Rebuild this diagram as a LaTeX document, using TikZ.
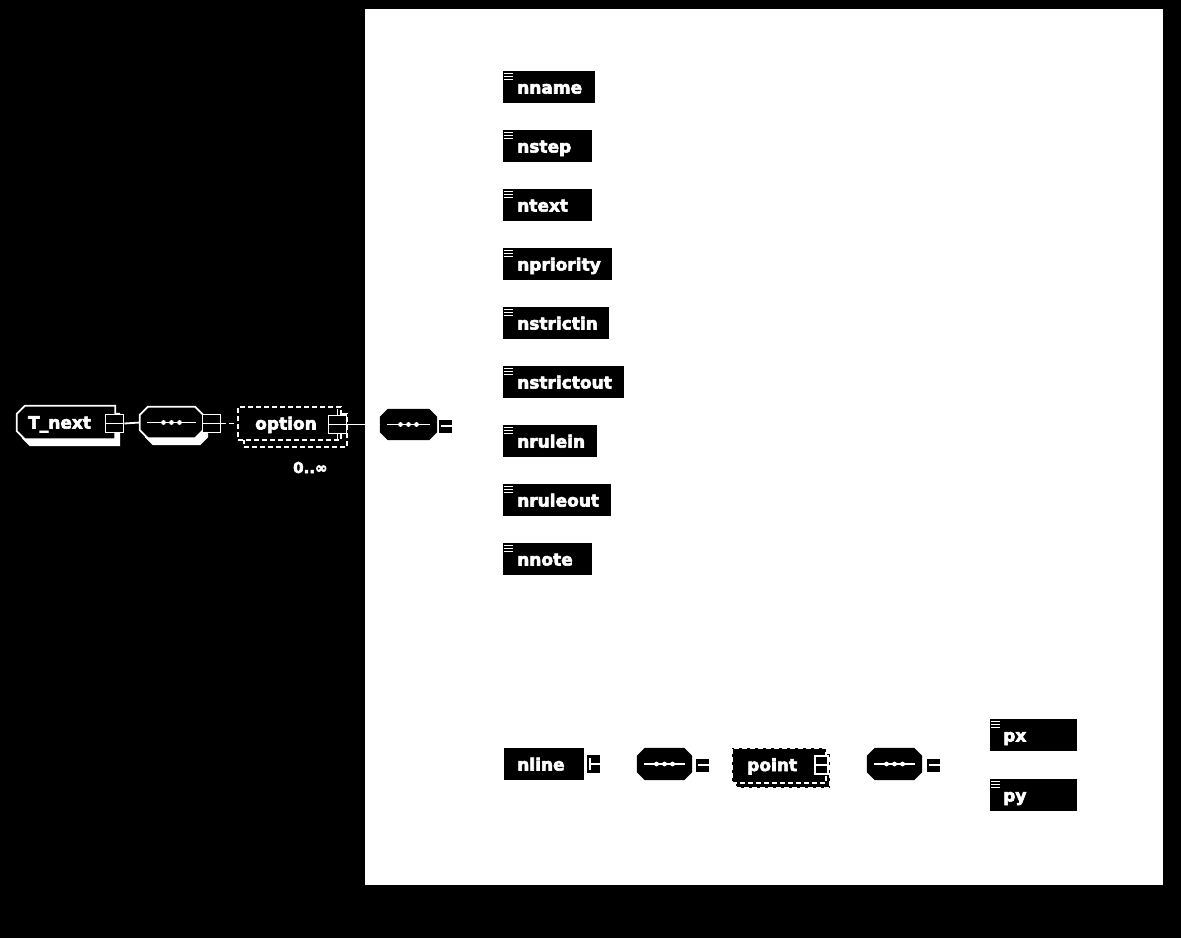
\documentclass[tikz,border=0pt]{standalone}
\usepackage{fontspec}
\newfontfamily\heavyfont{DejaVu Sans}[UprightFont={* Bold}, FakeBold=3.5]
\usetikzlibrary{shadows}
\tikzset{
  txt/.style={text=white,font=\fontsize{17}{20}\selectfont\heavyfont,inner sep=0pt},
  smalltxt/.style={text=white,font=\fontsize{15}{18}\selectfont\heavyfont,inner sep=0pt},
  hold/.style={rectangle, inner sep=0pt},
  iconw/.style={rectangle, draw=white, fill=black, line width=1.6pt, minimum width=18pt, minimum height=18pt, inner sep=0pt,
      path picture={\draw[white,line width=1.6pt] (path picture bounding box.west) -- (path picture bounding box.east);}},
  eqicon/.style={rectangle, fill=black, minimum width=13pt, minimum height=13pt, inner sep=0pt,
      path picture={\draw[white,line width=2pt] ([xshift=2pt]path picture bounding box.west) -- (path picture bounding box.east);}},
  nicon/.style={rectangle, fill=black, minimum width=13pt, minimum height=18pt, inner sep=0pt,
      path picture={\draw[white,line width=1.5pt] ([xshift=3pt,yshift=-3pt]path picture bounding box.north west) -- ([xshift=3pt,yshift=3pt]path picture bounding box.south west);
                    \draw[white,line width=2pt] ([xshift=3pt]path picture bounding box.west) -- (path picture bounding box.east);}},
  dashbox/.style={rectangle, draw=white, dash pattern=on 5pt off 3pt, line width=2pt, fill=black, inner sep=0pt},
  elem/.style={rectangle, fill=black, minimum height=32pt, inner sep=0pt, anchor=west,
      path picture={\foreach \dy in {2.5,5.5,8.5}
        \draw[white,line width=1.5pt] ([xshift=1pt,yshift=-\dy pt]path picture bounding box.north west) -- ++(9,0);}},
  plainbox/.style={rectangle, fill=black, minimum height=32pt, inner sep=0pt, anchor=west},
  conn/.style={white, line width=1.8pt},
  outl/.style={draw=white, line width=1.8pt, fill=black},
  shadowfill/.style={fill=white, transform canvas={xshift=5pt,yshift=-7pt}},
}
% octagon around a node #1, with path options #2
\newcommand\octpath[2]{\path[#2] ([xshift=8pt]#1.north west) -- ([xshift=-8pt]#1.north east) -- ([yshift=-8pt]#1.north east)
  -- ([yshift=8pt]#1.south east) -- ([xshift=-8pt]#1.south east) -- ([xshift=8pt]#1.south west)
  -- ([yshift=8pt]#1.south west) -- ([yshift=-8pt]#1.north west) -- cycle;}
% left-chamfered box around node #1
\newcommand\ctpath[2]{\path[#2] ([xshift=8pt]#1.north west) -- (#1.north east) -- (#1.south east)
  -- ([xshift=8pt]#1.south west) -- ([yshift=8pt]#1.south west) -- ([yshift=-8pt]#1.north west) -- cycle;}
% dotted sequence line in node #1
\newcommand\seqdots[1]{\draw[white,line width=1.6pt] ([xshift=7pt]#1.west) -- ([xshift=-7pt]#1.east);
  \foreach \dx in {-8,0,8} \fill[white] ([xshift=\dx pt]#1.center) circle (2.4pt);}
\begin{document}
\begin{tikzpicture}[x=1pt,y=-1pt]
\fill[black] (0,0) rectangle (1181,938);
\useasboundingbox (0,0) rectangle (1181,938);
\fill[white] (365,9) rectangle (1163,885);

% left chain
\node[hold, minimum width=98pt, minimum height=33pt] (tnext) at (66,422.5) {};
\ctpath{tnext}{shadowfill}
\ctpath{tnext}{outl}
\node[txt, anchor=base west] (tnext-t) at (28,428.5) {T\_next};
\node[iconw] (tnext-i) at (114.5,423.5) {};

\node[hold, minimum width=63pt, minimum height=31pt] (seq1) at (171.5,422.5) {};
\octpath{seq1}{shadowfill}
\octpath{seq1}{outl}
\seqdots{seq1}
\node[iconw] (seq1-i) at (211.5,423.5) {};

\node[dashbox, minimum width=103pt, minimum height=33pt,
      general shadow={shadow xshift=6pt,shadow yshift=-7pt,draw=white,dash pattern=on 5pt off 3pt,line width=2pt,fill=black}] (opt) at (289.5,423.5) {};
\node[txt, anchor=base west] (opt-t) at (255,429.5) {option};
\node[iconw] (opt-i) at (337.5,424.5) {};
\draw[conn] (opt-i.north) -- ++(0,-6);
\draw[conn] (opt-i.south) -- ++(0,6);
\node[smalltxt, anchor=base west] (opt-m) at (293,473) {0..∞};

\draw[conn] (tnext-i.east) -- (seq1.west);
\draw[conn, dash pattern=on 5pt off 3pt] (seq1-i.east) -- (opt.west);

\node[hold, minimum width=57pt, minimum height=31pt] (seq2) at (408.5,424.5) {};
\octpath{seq2}{fill=black}
\seqdots{seq2}
\node[eqicon] (seq2-i) at (445.5,426) {};
\draw[conn] (opt-i.east) -- (seq2.west);

% elements
\foreach \n/\y/\r in {nname/87/595, nstep/146/592, ntext/205/592, npriority/264/612,
  nstrictin/323/609, nstrictout/382/624, nrulein/441/597, nruleout/500/611, nnote/559/592}{
  \node[elem, minimum width={(\r-503)*1pt}] (\n) at (503,\y) {};
  \node[txt, anchor=base west] (\n-t) at ([xshift=14pt,yshift=-6.5pt]\n.west) {\n};
}

% bottom row
\node[plainbox, minimum width=80pt] (nline) at (504,764) {};
\node[txt, anchor=base west] (nline-t) at (517,770.5) {nline};
\node[nicon] (nline-i) at (593.5,764) {};

\node[hold, minimum width=55pt, minimum height=32pt] (seq3) at (664.5,764) {};
\octpath{seq3}{fill=black}
\seqdots{seq3}
\node[eqicon] (seq3-i) at (702.5,765) {};

\node[dashbox, minimum width=94pt, minimum height=35pt,
      general shadow={shadow xshift=4pt,shadow yshift=-5pt,draw=white,dash pattern=on 5pt off 3pt,line width=2pt,fill=black}] (point) at (779,765.5) {};
\node[txt, anchor=base west] (point-t) at (747,771) {point};
\node[iconw, minimum width=13pt, minimum height=18pt] (point-i) at (821.5,765) {};

\node[hold, minimum width=55pt, minimum height=32pt] (seq4) at (894.5,764) {};
\octpath{seq4}{fill=black}
\seqdots{seq4}
\node[eqicon] (seq4-i) at (933.5,765) {};

\node[elem, minimum width=87pt] (px) at (990,735) {};
\node[txt, anchor=base west] (px-t) at ([xshift=13pt,yshift=-6.5pt]px.west) {px};
\node[elem, minimum width=87pt] (py) at (990,795) {};
\node[txt, anchor=base west] (py-t) at ([xshift=13pt,yshift=-6.5pt]py.west) {py};
\end{tikzpicture}
\end{document}
